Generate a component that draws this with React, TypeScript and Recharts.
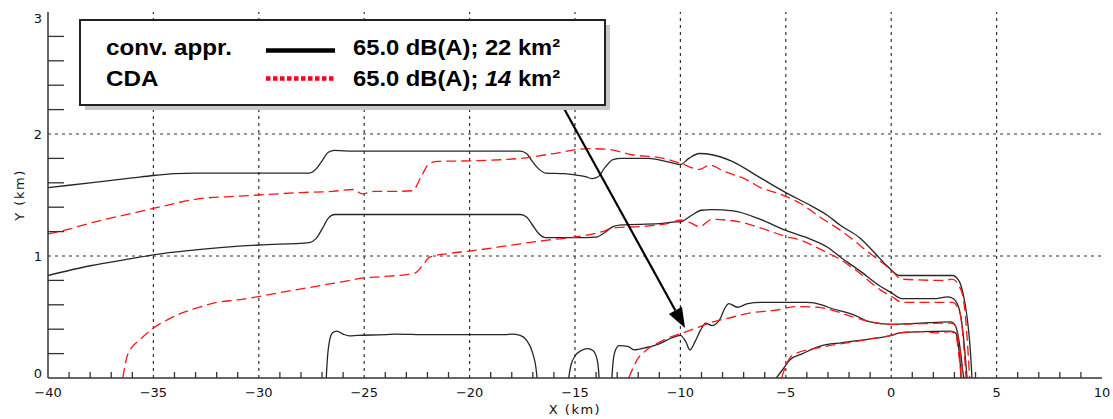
import React from "react";
import { LineChart, Line, XAxis, YAxis, ReferenceLine } from "recharts";

// ─── data (km) ──────────────────────────────────────────────

const convOuter = [
  [-40, 1.56], [-38, 1.6], [-36, 1.64], [-35, 1.66], [-34, 1.675], [-33, 1.68], [-30, 1.68],
  [-27.6, 1.68], [-27.3, 1.71], [-27.0, 1.78], [-26.7, 1.85], [-26.4, 1.865], [-25.5, 1.86],
  [-20, 1.86], [-17.6, 1.86], [-17.3, 1.84], [-17.0, 1.77], [-16.7, 1.71], [-16.4, 1.68],
  [-15.5, 1.675], [-15, 1.665], [-14.5, 1.65], [-14.2, 1.635], [-13.9, 1.65], [-13.6, 1.72],
  [-13.2, 1.79], [-12.8, 1.8], [-11.5, 1.8], [-10.8, 1.78], [-10.2, 1.755], [-10.0, 1.75],
  [-9.6, 1.8], [-9.1, 1.84], [-8.5, 1.83], [-7.6, 1.78], [-6.2, 1.64], [-5, 1.52], [-4, 1.43],
  [-3, 1.33], [-2.4, 1.25], [-1.5, 1.15], [-0.7, 1.01], [-0.2, 0.92], [0.4, 0.84], [1.5, 0.84],
  [2.9, 0.84], [3.2, 0.8], [3.4, 0.7], [3.6, 0.5], [3.72, 0.3], [3.8, 0.1], [3.83, 0],
];

const convInner = [
  [-40, 0.84], [-38, 0.92], [-36, 0.98], [-35, 1.01], [-33, 1.05], [-30, 1.09], [-27.6, 1.11],
  [-27.3, 1.14], [-27.0, 1.22], [-26.7, 1.31], [-26.4, 1.34], [-20, 1.34], [-17.6, 1.34],
  [-17.3, 1.32], [-17.0, 1.25], [-16.7, 1.18], [-16.4, 1.15], [-15, 1.15], [-14.0, 1.155],
  [-13.6, 1.19], [-13.2, 1.24], [-12.8, 1.255], [-11, 1.265], [-10.2, 1.28], [-10.0, 1.28],
  [-9.5, 1.33], [-9.0, 1.375], [-8.5, 1.38], [-7.5, 1.37], [-6.2, 1.3], [-5, 1.21], [-4, 1.15],
  [-3, 1.07], [-2.4, 0.99], [-1.5, 0.88], [-0.5, 0.75], [0, 0.7], [0.5, 0.65], [2, 0.65],
  [2.7, 0.665], [2.95, 0.65], [3.2, 0.58], [3.35, 0.45], [3.45, 0.3], [3.55, 0.1], [3.6, 0],
];

const convIsland = [
  [-26.8, 0], [-26.75, 0.15], [-26.65, 0.3], [-26.5, 0.37], [-26.3, 0.385], [-26.0, 0.36],
  [-25.7, 0.345], [-25.3, 0.35], [-24, 0.355], [-23.5, 0.36], [-22, 0.355], [-18.3, 0.355],
  [-18, 0.36], [-17.6, 0.35], [-17.3, 0.31], [-17.0, 0.2], [-16.85, 0.08], [-16.8, 0],
];

const convBump = [
  [-15.3, 0], [-15.2, 0.1], [-15.0, 0.18], [-14.7, 0.225], [-14.4, 0.24], [-14.15, 0.225],
  [-13.95, 0.15], [-13.88, 0.06], [-13.86, 0],
];

const convRunway = [
  [-13.25, 0], [-13.2, 0.12], [-13.1, 0.22], [-12.9, 0.265], [-12.5, 0.26], [-12.2, 0.23],
  [-11.6, 0.25], [-11, 0.28], [-10.4, 0.33], [-10.0, 0.35], [-9.75, 0.3], [-9.55, 0.23],
  [-9.3, 0.3], [-9.05, 0.39], [-8.8, 0.45], [-8.5, 0.43], [-8.1, 0.49], [-7.9, 0.57],
  [-7.7, 0.61], [-7.3, 0.58], [-6.8, 0.61], [-6.2, 0.62], [-4, 0.62], [-3.3, 0.6], [-3.0, 0.58],
  [-1.8, 0.52], [-1.0, 0.46], [0, 0.44], [1.4, 0.45], [2.8, 0.46], [2.95, 0.45], [3.15, 0.37],
  [3.3, 0.2], [3.4, 0.05], [3.45, 0],
];

const convLow = [
  [-5.45, 0], [-5.1, 0.08], [-4.8, 0.15], [-4.2, 0.2], [-3.4, 0.26], [-2.3, 0.29], [-1, 0.32],
  [0, 0.35], [0.4, 0.37], [1.4, 0.38], [2.8, 0.385], [3.05, 0.37], [3.2, 0.25], [3.28, 0.1],
  [3.31, 0],
];

const cdaOuter = [
  [-40, 1.18], [-39, 1.22], [-38, 1.27], [-36, 1.35], [-35, 1.39], [-34, 1.43], [-32.8, 1.47],
  [-31, 1.49], [-30, 1.5], [-28, 1.52], [-26.5, 1.53], [-25.5, 1.545], [-25.1, 1.51],
  [-24.5, 1.53], [-23.5, 1.53], [-22.7, 1.535], [-22.3, 1.65], [-21.9, 1.76], [-21.5, 1.775],
  [-20, 1.78], [-17.6, 1.8], [-16, 1.84], [-14.4, 1.88], [-13.5, 1.875], [-12.3, 1.83],
  [-10.8, 1.8], [-10, 1.76], [-9.1, 1.71], [-8.6, 1.745], [-8, 1.7], [-6.8, 1.62], [-6.2, 1.56],
  [-5.3, 1.51], [-4.3, 1.43], [-3.3, 1.31], [-2.4, 1.21], [-1, 1.02], [0, 0.885], [0.5, 0.81],
  [2.5, 0.8], [2.9, 0.81], [3.2, 0.76], [3.4, 0.67], [3.55, 0.45], [3.65, 0.2], [3.72, 0],
];

const cdaInner = [
  [-36.45, 0], [-36.35, 0.1], [-36.2, 0.2], [-35.6, 0.32], [-35, 0.41], [-34.3, 0.48],
  [-33.7, 0.53], [-32.8, 0.58], [-32, 0.62], [-31, 0.64], [-29, 0.7], [-27, 0.76], [-26, 0.79],
  [-25, 0.82], [-24.2, 0.83], [-22.6, 0.86], [-22.2, 0.93], [-21.9, 0.99], [-21, 1.02],
  [-20, 1.04], [-17.6, 1.1], [-16.3, 1.13], [-14.8, 1.16], [-13.7, 1.2], [-13.2, 1.23],
  [-11.6, 1.245], [-10.5, 1.27], [-10, 1.295], [-9.5, 1.27], [-9.1, 1.24], [-8.5, 1.3],
  [-7.2, 1.28], [-6.2, 1.23], [-5, 1.16], [-4.3, 1.13], [-3.3, 1.05], [-2.4, 0.97], [-1.5, 0.86],
  [-0.5, 0.72], [0, 0.67], [0.55, 0.62], [2.9, 0.62], [3.15, 0.58], [3.3, 0.5], [3.45, 0.25],
  [3.55, 0],
];

const cdaRunway = [
  [-12.45, 0], [-12.2, 0.1], [-12.05, 0.15], [-11.6, 0.23], [-10.8, 0.31], [-9.55, 0.39],
  [-8.45, 0.46], [-7.5, 0.5], [-6.8, 0.53], [-5.3, 0.56], [-4.6, 0.585], [-3.5, 0.58],
  [-3, 0.565], [-1.8, 0.5], [-1, 0.46], [0, 0.44], [1.4, 0.445], [2.8, 0.45], [3.0, 0.44],
  [3.2, 0.3], [3.35, 0.1], [3.4, 0],
];

const cdaLow = [
  [-5.2, 0], [-5.0, 0.1], [-4.65, 0.19], [-3.4, 0.25], [-2, 0.29], [-1, 0.32], [0, 0.35],
  [0.4, 0.37], [1.4, 0.38], [2.1, 0.37], [2.8, 0.38], [3.05, 0.36], [3.2, 0.2], [3.3, 0.05],
  [3.33, 0],
];

const xTicks = [
  -40, -39, -38, -37, -36, -35, -34, -33, -32, -31, -30, -29, -28, -27, -26, -25, -24, -23,
  -22, -21, -20, -19, -18, -17, -16, -15, -14, -13, -12, -11, -10, -9, -8, -7, -6, -5, -4, -3,
  -2, -1, 0, 1, 2, 3, 4, 5, 6, 7, 8, 9, 10,
];
const yTicks = [0, 0.2, 0.4, 0.6, 0.8, 1, 1.2, 1.4, 1.6, 1.8, 2, 2.2, 2.4, 2.6, 2.8, 3];
const gridX = [-35, -30, -25, -20, -15, -10, -5, 0, 5];
const gridY = [1, 2];

// arrow from the legend box to the -10 km hump
const arrowFrom = { x: -15.62, y: 2.24 };
const arrowTo = { x: -9.78, y: 0.41 };

const legendRows = [
  { label: "conv. appr.", value: "65.0 dB(A); ", area: "22", italic: false },
  { label: "CDA", value: "65.0 dB(A); ", area: "14", italic: true },
];

// ─── styling ────────────────────────────────────────────────

const BLACK = "#262626";
const RED = "#ff1414";
const AXIS = "#333";
const TICK_FONT = "'DejaVu Sans', sans-serif";

const toPts = (a: number[][]) => a.map(([x, y]) => ({ x, y }));
const fmt = (v: number) => (v < 0 ? `\u2212${Math.abs(v)}` : `${v}`);

const BottomTick = (p: any) => {
  const { x, y, payload } = p;
  const v = payload.value;
  if (v % 5 === 0)
    return (
      <text x={x} y={y + 19} textAnchor="middle" fontSize={13} fontFamily={TICK_FONT} fill="#111">
        {fmt(v)}
      </text>
    );
  return <line x1={x} y1={y} x2={x} y2={y - 6} stroke={AXIS} strokeWidth={1.3} />;
};

const TopTick = (p: any) => {
  const { x, y, payload } = p;
  if (payload.value % 5 === 0) return <g />;
  return <line x1={x} y1={y} x2={x} y2={y + 6} stroke={AXIS} strokeWidth={1.3} />;
};

const LeftTick = (p: any) => {
  const { x, y, payload } = p;
  const v = payload.value;
  if (Number.isInteger(v)) {
    const dy = v === 3 ? 11 : v === 0 ? 0 : 5;
    return (
      <text x={x - 6} y={y + dy} textAnchor="end" fontSize={13} fontFamily={TICK_FONT} fill="#111">
        {v}
      </text>
    );
  }
  return <line x1={x} y1={y} x2={x + 16} y2={y} stroke={AXIS} strokeWidth={1.3} />;
};

const RightTick = (p: any) => {
  const { x, y, payload } = p;
  if (Number.isInteger(payload.value)) return <g />;
  return <line x1={x} y1={y} x2={x - 16} y2={y} stroke={AXIS} strokeWidth={1.3} />;
};

const ArrowShape = (p: any) => {
  const { x1, y1, x2, y2 } = p;
  const len = Math.hypot(x2 - x1, y2 - y1);
  const ux = (x2 - x1) / len;
  const uy = (y2 - y1) / len;
  const hl = 20;
  const hw = 7.5;
  const bx = x2 - ux * hl;
  const by = y2 - uy * hl;
  return (
    <g>
      <line x1={x1} y1={y1} x2={bx} y2={by} stroke="#000" strokeWidth={2.2} />
      <polygon
        points={`${x2},${y2} ${bx - uy * hw},${by + ux * hw} ${bx + uy * hw},${by - ux * hw}`}
        fill="#000"
      />
    </g>
  );
};

const XTitle = (p: any) => {
  const vb = p.viewBox;
  return (
    <text x={vb.x + vb.width / 2} y={vb.y + 36} textAnchor="middle" fontSize={13}
      fontFamily={TICK_FONT} letterSpacing={1.5} fill="#111">
      X (km)
    </text>
  );
};

const YTitle = (p: any) => {
  const vb = p.viewBox;
  const cx = vb.x + 11;
  const cy = vb.y + vb.height / 2;
  return (
    <text x={cx} y={cy} transform={`rotate(-90 ${cx} ${cy})`} textAnchor="middle"
      dominantBaseline="central" fontSize={13} fontFamily={TICK_FONT} letterSpacing={1.5} fill="#111">
      Y (km)
    </text>
  );
};

function LegendBox() {
  const font = "'Liberation Sans', Arial, sans-serif";
  const rows = [55, 86];
  return (
    <svg width={1113} height={419} style={{ position: "absolute", left: 0, top: 0, pointerEvents: "none" }}>
      <rect x={85} y={25} width={525} height={85} fill="#c8c8c8" />
      <rect x={80} y={20} width={525} height={85} fill="#fff" stroke="#222" strokeWidth={2} />
      {legendRows.map((r, i) => (
        <g key={r.label} fontFamily={font} fontWeight="bold" fontSize={22} fill="#000">
          <text transform={`translate(106 ${rows[i]}) scale(1.1 1)`}>{r.label}</text>
          <text transform={`translate(353 ${rows[i]}) scale(1.08 1)`}>
            {r.value}
            <tspan fontStyle={r.italic ? "italic" : "normal"}>{r.area}</tspan>
            {" km\u00b2"}
          </text>
        </g>
      ))}
      <line x1={266} y1={50.5} x2={335} y2={50.5} stroke="#000" strokeWidth={4.5} />
      <line x1={266} y1={78.5} x2={335} y2={78.5} stroke="#ff0020" strokeWidth={4.5} strokeDasharray="4.5 2.5" />
    </svg>
  );
}

export default function App() {
  const black = [convOuter, convInner, convIsland, convBump, convRunway, convLow];
  const red = [cdaOuter, cdaInner, cdaRunway, cdaLow];
  return (
    <div style={{ position: "absolute", left: 0, top: 0, width: 1113, height: 419, background: "#fff" }}>
      <LineChart width={1113} height={419} margin={{ top: 12, right: 11, bottom: 0, left: 8 }}>
        <XAxis dataKey="x" type="number" domain={[-40, 10]} ticks={xTicks} interval={0}
          allowDataOverflow height={41} tickSize={0} tickMargin={0} tickLine={false}
          axisLine={{ stroke: AXIS, strokeWidth: 1.5 }} tick={BottomTick} label={<XTitle />} />
        <XAxis xAxisId="top" orientation="top" dataKey="x" type="number" domain={[-40, 10]}
          ticks={xTicks} interval={0} height={0} tickSize={0} tickMargin={0} tickLine={false}
          axisLine={{ stroke: AXIS, strokeWidth: 1.5 }} tick={TopTick} />
        <YAxis type="number" domain={[0, 3]} ticks={yTicks} interval={0} width={40}
          allowDataOverflow tickSize={0} tickMargin={0} tickLine={false}
          axisLine={{ stroke: AXIS, strokeWidth: 1.5 }} tick={LeftTick} label={<YTitle />} />
        <YAxis yAxisId="right" orientation="right" type="number" domain={[0, 3]} ticks={yTicks}
          interval={0} width={0} tickSize={0} tickMargin={0} tickLine={false}
          axisLine={{ stroke: AXIS, strokeWidth: 2 }} tick={RightTick} />

        {gridX.map((v) => (
          <ReferenceLine key={`gx${v}`} x={v} stroke={AXIS} strokeWidth={1.2} strokeDasharray="3 4" />
        ))}
        {gridY.map((v) => (
          <ReferenceLine key={`gy${v}`} y={v} stroke={AXIS} strokeWidth={1.2} strokeDasharray="3 4" />
        ))}

        {black.map((d, i) => (
          <Line key={`c${i}`} data={toPts(d)} dataKey="y" type="monotone" stroke={BLACK}
            strokeWidth={1.3} dot={false} activeDot={false} isAnimationActive={false} />
        ))}
        {red.map((d, i) => (
          <Line key={`r${i}`} data={toPts(d)} dataKey="y" type="monotone" stroke={RED}
            strokeWidth={1.3} strokeDasharray="10 5" dot={false} activeDot={false}
            isAnimationActive={false} />
        ))}

        <ReferenceLine segment={[arrowFrom, arrowTo]} shape={ArrowShape} />
      </LineChart>
      <LegendBox />
    </div>
  );
}
